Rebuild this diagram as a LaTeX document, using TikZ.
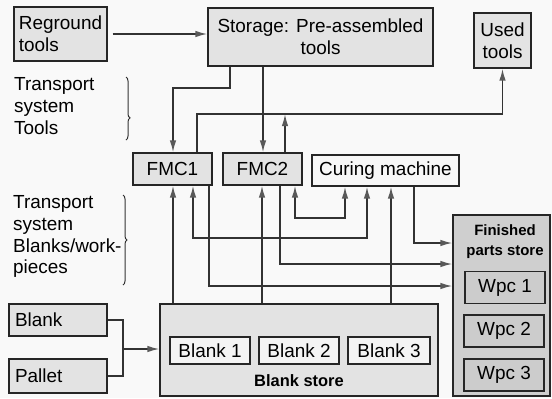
\documentclass[tikz,border=0pt]{standalone}
\usepackage{fontspec}
\setmainfont{Liberation Sans}
\usetikzlibrary{arrows.meta, decorations.pathreplacing}

\begin{document}
\begin{tikzpicture}[x=1bp, y=-1bp,
  every node/.style={font=\fontsize{19}{22}\selectfont, inner sep=0pt},
  box/.style={draw=black!85, line width=1.3bp, fill=gray!22, align=center},
  inbox/.style={box, fill=gray!9},
  wpcbox/.style={draw=black!85, line width=1.3bp, fill=black!20, minimum width=80bp, minimum height=32bp},
  lnk/.style={line width=1.5bp, draw=black!80},
  arr/.style={lnk, -{Latex[length=12bp,width=6.5bp,color=gray!70!black]}},
  biarr/.style={lnk, {Latex[length=12bp,width=6.5bp,color=gray!70!black]}-{Latex[length=12bp,width=6.5bp,color=gray!70!black]}},
  brc/.style={decorate, decoration={brace, amplitude=4bp, #1}, line width=1bp, draw=black!80}]

  \useasboundingbox (0,0) rectangle (552,398);
  \fill[gray!5] (0,0) rectangle (552,398);

  % tool side
  \node[box, minimum width=93bp, minimum height=54bp, align=left] (regr) at (60.5,34) {Reground\\tools};
  \node[box, minimum width=225bp, minimum height=58bp] (stor) at (320.5,37) {Storage: Pre-assembled\\tools};
  \node[box, minimum width=57bp, minimum height=55bp] (used) at (502.5,40.5) {Used\\tools};

  % machines
  \node[box, minimum width=79bp, minimum height=32bp] (fmc1) at (172.5,169) {FMC1};
  \node[box, minimum width=79bp, minimum height=32bp] (fmc2) at (262.5,169) {FMC2};
  \node[box, fill=gray!6, minimum width=147bp, minimum height=31bp] (cure) at (385.5,170.5) {Curing machine};

  % transport labels
  \node[anchor=north west, align=left] (tptool) at (14,77) {Transport\\system\\Tools};
  \node[anchor=north west, align=left] (tpblank) at (13,195) {Transport\\system\\Blanks/work-\\pieces};
  \draw[brc={aspect=0.65}] (126,77) -- (126,140);
  \draw[brc={aspect=0.5}] (123,195) -- (123,285);

  % blanks and pallets
  \node[box, minimum width=98bp, minimum height=32bp, align=left, text width=86bp] (blank) at (58,320) {Blank};
  \node[box, minimum width=98bp, minimum height=34bp, align=left, text width=86bp] (pallet) at (58,376) {Pallet};
  \node[box, minimum width=278bp, minimum height=92bp] (bst) at (299,350) {};
  \foreach \i/\x/\w in {1/210/80, 2/299/80, 3/389/82}
    \node[inbox, minimum width=\w bp, minimum height=27bp] (bl\i) at (\x,350.5) {Blank \i};
  \node[font=\fontsize{16.5}{19}\selectfont\bfseries] (bstlbl) at (299,381) {Blank store};

  % finished parts
  \node[box, fill=gray!38, minimum width=97bp, minimum height=181bp] (fps) at (501.5,305.5) {};
  \node[font=\fontsize{15}{20}\selectfont\bfseries, align=center] (fpslbl) at (505,242) {Finished\\parts store};
  \node[wpcbox] (wpc3) at (504,375) {Wpc 3};
  \node[wpcbox] (wpc2) at (504,331) {Wpc 2};
  \node[wpcbox] (wpc1) at (505,287.5) {Wpc 1};

  % tool flow
  \coordinate (tret) at (285,114);
  \draw[arr, shorten <=5bp] (regr.east) -- (regr.east -| stor.west);
  \draw[arr] (stor.south -| 230,0) -- (230,88) -| (fmc1.north -| 173,0);
  \draw[arr] (stor.south -| 263,0) -- (fmc2.north -| 263,0);
  \draw[arr] (fmc1.north -| 197,0) |- (tret) -| (used.south);
  \draw[arr] (fmc2.north -| 285,0) -- (tret);

  % blank flow
  \foreach \t/\x in {fmc1/173, fmc2/262, cure/391}
    \draw[arr] (bst.north -| \x,0) -- (\t.south -| \x,0);
  \draw[biarr] (fmc1.south -| 193,0) |- (367,238) -- (cure.south -| 367,0);
  \draw[biarr] (fmc2.south -| 295,0) |- (345,218) -- (cure.south -| 345,0);
  \draw[arr] (cure.south -| 414,0) |- (fps.west |- 0,243);
  \draw[arr] (fmc2.south -| 280,0) |- (fps.west |- 0,264);
  \draw[arr] (fmc1.south -| 209,0) |- (fps.west |- 0,286);

  \coordinate (jn) at (123,349);
  \draw[lnk] (blank.east) -| (jn) |- (pallet.east);
  \draw[arr] (jn) -- (jn -| bst.west);
\end{tikzpicture}
\end{document}
